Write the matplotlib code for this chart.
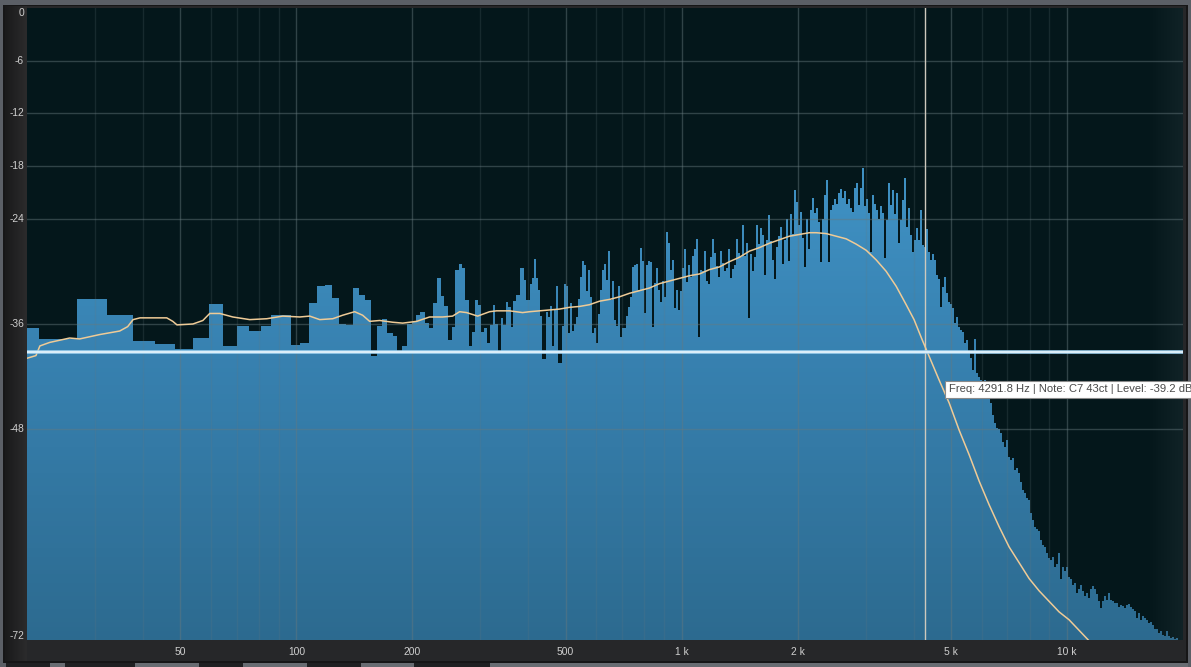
import numpy as np
import matplotlib
matplotlib.use('Agg')
import matplotlib.pyplot as plt
from matplotlib.colors import LinearSegmentedColormap
from matplotlib.patches import Rectangle

# ---------------- data ----------------
DF_HZ = 44100 / 8192            # FFT bin width
LOW_FIRST_BIN = 3
# one level per FFT bin (bins 3 .. 69), dB
low_bin_levels = [
    -36.4, -37.7, -33.1, -35.0, -37.9, -38.3, -38.8, -37.6, -33.7, -38.5,
    -36.2, -36.8, -36.2, -35.0, -35.0, -38.4, -38.2, -33.6, -31.7, -31.6,
    -33.0, -36.0, -36.1, -31.9, -32.7, -33.3, -39.7, -36.2, -35.4, -37.0,
    -37.4, -39.2, -38.5, -36.0, -35.8, -35.0, -34.6, -35.9, -36.4, -33.6,
    -30.8, -32.8, -33.9, -37.8, -36.3, -29.8, -29.2, -29.6, -33.3, -38.5,
    -36.9, -33.3, -33.8, -36.9, -36.4, -38.2, -36.1, -33.8, -36.0, -39.3,
    -35.3, -36.1, -33.5, -34.1, -36.3, -33.4, -32.7,
]
# display-column levels above bin 70 (log-spaced columns), dB
HIGH_COLS_PER_DECADE = 385.7 / 2
high_levels = [
    -32.7, -29.6, -29.6, -31.0, -33.3, -33.3, -31.5, -30.8, -28.6, -30.8,
    -32.1, -35.1, -40.0, -40.0, -34.6, -35.2, -33.9, -38.5, -34.4, -31.7,
    -40.5, -40.5, -36.2, -31.5, -31.7, -37.0, -33.6, -36.8, -36.0, -35.2,
    -33.2, -30.6, -28.8, -29.3, -32.2, -29.9, -32.9, -37.0, -36.4, -38.2,
    -34.9, -32.1, -29.8, -29.2, -31.0, -27.7, -33.3, -31.1, -35.5, -36.2,
    -31.7, -37.5, -36.4, -36.4, -35.1, -34.1, -32.9, -29.5, -29.3, -29.2,
    -32.1, -27.3, -28.8, -34.7, -29.3, -28.8, -28.9, -36.3, -31.3, -29.6,
    -32.1, -33.5, -31.1, -32.9, -25.5, -26.8, -29.9, -28.7, -34.2, -32.1,
    -34.4, -32.2, -29.6, -27.4, -31.2, -29.3, -30.6, -28.2, -27.5, -26.3,
    -37.5, -29.8, -30.0, -27.7, -31.1, -31.5, -28.4, -26.3, -27.9, -29.4,
    -30.6, -27.7, -29.1, -30.0, -29.6, -27.5, -30.8, -29.7, -29.3, -26.3,
    -27.9, -28.4, -24.7, -28.3, -26.8, -35.3, -28.0, -30.0, -28.4, -24.7,
    -26.9, -25.1, -25.9, -30.4, -26.4, -23.6, -26.6, -28.7, -30.9, -27.2,
    -26.0, -24.9, -29.2, -26.4, -24.0, -28.8, -23.5, -25.7, -20.7, -22.1,
    -24.7, -23.2, -26.2, -29.5, -24.0, -27.4, -23.0, -21.6, -23.4, -22.8,
    -24.4, -28.9, -24.0, -21.3, -19.6, -28.9, -23.0, -22.4, -21.8, -22.3,
    -21.1, -20.6, -21.6, -20.9, -22.3, -21.8, -22.8, -23.2, -20.5, -19.9,
    -22.4, -20.5, -18.2, -22.6, -21.8, -23.3, -27.8, -21.3, -22.3, -23.0,
    -24.0, -22.6, -23.4, -28.5, -24.2, -19.9, -22.4, -20.7, -23.5, -21.1,
    -26.8, -24.1, -21.9, -19.4, -24.9, -22.8, -25.9, -27.8, -26.4, -25.1,
    -26.4, -23.0, -27.0, -27.2, -25.2, -27.8, -28.7, -28.0, -28.7, -30.4,
    -30.9, -34.1, -31.8, -30.7, -32.5, -33.5, -33.7, -34.2, -35.9, -35.2,
    -36.3, -36.7, -36.9, -38.2, -37.8, -39.3, -39.9, -41.2, -37.7, -41.6,
    -42.0, -42.4, -42.6, -42.4, -43.0, -44.6, -45.0, -46.4, -47.3, -47.8,
    -48.0, -48.4, -49.4, -50.0, -49.2, -51.1, -51.5, -51.3, -52.6, -52.4,
    -53.0, -54.0, -54.9, -55.3, -55.8, -56.0, -57.5, -58.3, -59.1, -59.4,
    -59.6, -60.6, -61.2, -61.4, -62.1, -62.7, -62.9, -62.5, -63.7, -63.3,
    -62.1, -65.1, -63.7, -64.1, -63.7, -64.8, -65.1, -65.7, -65.5, -66.6,
    -66.2, -65.7, -66.4, -67.0, -66.6, -67.2, -66.2, -65.9, -66.2, -66.8,
    -67.6, -68.4, -67.6, -67.0, -67.4, -66.6, -67.4, -67.6, -67.8, -67.8,
    -68.2, -68.0, -68.1, -68.4, -68.0, -67.9, -68.2, -68.5, -68.7, -69.5,
    -68.9, -69.7, -69.3, -69.5, -69.7, -70.1, -69.9, -70.3, -70.7, -70.8,
    -71.2, -71.0, -71.4, -71.6, -71.0, -71.6, -71.8, -71.7, -71.9, -71.8,
    -72.5, -72.5, -72.5,
]
# smoothed (averaged) spectrum curve
curve_freqs = [
    20.0, 21.1, 21.6, 22.9, 25.8, 27.4, 30.9, 34.8, 36.5, 37.7, 39.3, 46.1,
    47.8, 49.0, 53.9, 57.2, 59.6, 63.3, 68.4, 75.7, 83.8, 92.2, 102.1, 108.3,
    115.0, 124.3, 131.9, 141.7, 148.6, 155.0, 164.6, 177.9, 188.8, 205.2,
    221.7, 239.7, 254.4, 265.3, 276.6, 295.4, 317.3, 330.9, 357.6, 386.4,
    402.8, 427.6, 454.0, 481.9, 511.6, 543.1, 576.6, 612.0, 649.7, 689.8,
    732.2, 777.3, 825.1, 876.0, 929.9, 987.2, 1048, 1112, 1181, 1253, 1330,
    1412, 1499, 1591, 1689, 1793, 1903, 2020, 2145, 2234, 2372, 2518, 2673,
    2837, 3012, 3198, 3394, 3603, 3825, 4009, 4209, 4389, 4659, 4946, 5250,
    5573, 5916, 6280, 6667, 7077, 7513, 7975, 8466, 8987, 9540, 10127,
    10750, 11413, 12100,
]
curve_levels = [
    -39.9, -39.6, -38.5, -38.1, -37.6, -37.7, -37.2, -36.8, -36.3, -35.5,
    -35.3, -35.3, -35.7, -36.1, -36.0, -35.6, -34.8, -34.8, -35.2, -35.5,
    -35.4, -35.1, -35.2, -35.1, -35.5, -35.4, -35.0, -34.6, -35.0, -35.7,
    -35.6, -35.8, -35.9, -35.7, -35.2, -35.2, -35.1, -34.6, -34.7, -35.1,
    -34.6, -34.5, -34.5, -34.7, -34.6, -34.5, -34.4, -34.3, -34.1, -34.0,
    -33.8, -33.4, -33.2, -32.9, -32.5, -32.2, -31.9, -31.4, -31.1, -30.8,
    -30.5, -30.3, -29.8, -29.5, -28.9, -28.4, -27.7, -27.3, -26.8, -26.4,
    -26.0, -25.8, -25.6, -25.6, -25.7, -26.0, -26.3, -26.9, -27.6, -28.7,
    -30.0, -31.7, -33.8, -35.5, -37.8, -39.7, -42.4, -45.0, -48.1, -50.9,
    -53.9, -56.6, -59.1, -61.4, -63.2, -65.0, -66.4, -67.6, -68.8, -69.7,
    -70.9, -72.1, -73.2,
]
ref_level_db = -39.2
cursor_freq_hz = 4291.8
y_ticks = [0, -6, -12, -18, -24, -36, -48, -72]
x_ticks = [50, 100, 200, 500, 1000, 2000, 5000, 10000]
x_tick_labels = ['50', '100', '200', '500', '1 k', '2 k', '5 k', '10 k']
x_minor_grid = [30, 40, 60, 70, 80, 90, 300, 400, 600, 700, 800, 900,
                3000, 4000, 6000, 7000, 8000, 9000]
tooltip_text = "Freq: 4291.8 Hz | Note: C7 43ct | Level: -39.2 dB"

# ---------------- figure / frame ----------------
W, H = 1191, 667
fig = plt.figure(figsize=(W / 100, H / 100), dpi=100)
fig.patch.set_facecolor('#5b5f66')


def fx(px):
    return px / W


def fy(py):
    return 1 - py / H


def frect(x0, y0, x1, y1, color, z=-10):
    fig.add_artist(Rectangle((fx(x0), fy(y1)), fx(x1) - fx(x0), fy(y0) - fy(y1),
                             transform=fig.transFigure, facecolor=color,
                             edgecolor='none', zorder=z))


frect(3, 5, 1188, 663, '#161617')
frect(5, 6, 1186, 661, '#262729')
# bottom tabs
for a, b in [(6, 50), (65, 135), (199, 243), (307, 361), (414, 490)]:
    frect(a, 663, b, 667, '#1f2022', z=-9)
for a, b in [(50, 65), (135, 199), (243, 307), (361, 414), (490, 1188)]:
    frect(a, 663, b, 667, '#686c72', z=-9)

# left strip gradient
strip = fig.add_axes([fx(5), fy(661), fx(27) - fx(5), fy(6) - fy(661)], zorder=-5)
strip.imshow(np.linspace(0, 1, 50)[None, :], aspect='auto',
             cmap=LinearSegmentedColormap.from_list('s', ['#1a1a1b', '#2b2b2c']),
             extent=[0, 1, 0, 1])
strip.set_axis_off()

# ---------------- main axes ----------------
ax = fig.add_axes([fx(27), fy(640), fx(1183) - fx(27), fy(8) - fy(640)])
ax.set_facecolor('#04171b')
ax.set_xscale('log')
ax.set_xlim(20, 20000)
ax.set_ylim(-72, 0)
for s in ax.spines.values():
    s.set_visible(False)
ax.set_xticks([])
ax.set_yticks([])
ax.minorticks_off()

# spectrum bars
low_edges = DF_HZ * np.arange(LOW_FIRST_BIN, LOW_FIRST_BIN + len(low_bin_levels) + 1)
high_edges = low_edges[-1] * 10 ** (np.arange(len(high_levels) + 1) / HIGH_COLS_PER_DECADE)
edges = np.concatenate([low_edges, high_edges[1:]])
levels = np.array(low_bin_levels + high_levels)
poly = ax.fill_between(edges, np.append(levels, levels[-1]), -90, step='post',
                       facecolor='none', edgecolor='none')
clip_path = poly.get_paths()[0]
poly.set_visible(False)

yg = np.linspace(-72, 0, 145)
cmap = LinearSegmentedColormap.from_list(
    'spec', [(0, '#2c6a8f'), (0.45, '#3781b0'), (0.7, '#3e8fc1'), (1, '#4298cb')])
mesh = ax.pcolormesh([20, 20000], yg, ((yg[:-1] + yg[1:]) / 2)[:, None],
                     cmap=cmap, vmin=-72, vmax=0, shading='flat', zorder=1)
mesh.set_clip_path(clip_path, ax.transData)

# right edge shading
for i in range(12):
    x0 = (1150 + i * 2.8 - 27) / 1156
    ax.add_patch(Rectangle((x0, 0), 2.8 / 1156, 1, transform=ax.transAxes,
                           facecolor='#5a6668', alpha=0.012 * (i + 1),
                           edgecolor='none', zorder=1.5))

# grid
grid_c = '#67797e'
for f in x_minor_grid:
    ax.axvline(f, color=grid_c, alpha=0.2, lw=1.0, zorder=2)
for f in x_ticks:
    ax.axvline(f, color=grid_c, alpha=0.45, lw=1.0, zorder=2)
for v in y_ticks[1:-1]:
    ax.axhline(v, color=grid_c, alpha=0.45, lw=1.0, zorder=2)

# cursor
ax.axvline(cursor_freq_hz, color='#cdc9bd', lw=1.0, zorder=3)

# smoothed curve
ax.plot(curve_freqs, curve_levels, color='#efcb97', lw=1.1, zorder=4,
        solid_joinstyle='round')

# reference level line
ax.axhline(ref_level_db, color='#9fd0ee', lw=2.6, zorder=5)
ax.axhline(ref_level_db, color='#eef8fd', lw=1.1, zorder=5.1)

# tick labels
lab_font = dict(family=['Liberation Sans', 'DejaVu Sans'], size=7.4, color='#cfcfcf')
xlab_tr = ax.get_xaxis_transform()
for f, t in zip(x_ticks, x_tick_labels):
    ax.text(f, -11.7 / 632, t, transform=xlab_tr, ha='center', va='center',
            clip_on=False, **lab_font)
for v in y_ticks:
    yy = min(max(v, -71.55), -0.57)
    ax.text(-3 / 1156, yy, str(v), transform=ax.get_yaxis_transform(),
            ha='right', va='center', clip_on=False, **lab_font)

# tooltip
fig.text(fx(949), fy(389.5), tooltip_text, ha='left', va='center',
         family=['Liberation Sans', 'DejaVu Sans'], size=8.1, color='#4a4a4a',
         zorder=20,
         bbox=dict(boxstyle='square,pad=0.32', facecolor='#ffffff',
                   edgecolor='#8a8a8a', linewidth=0.8))

fig.savefig('out.png', dpi=100, facecolor=fig.get_facecolor())
